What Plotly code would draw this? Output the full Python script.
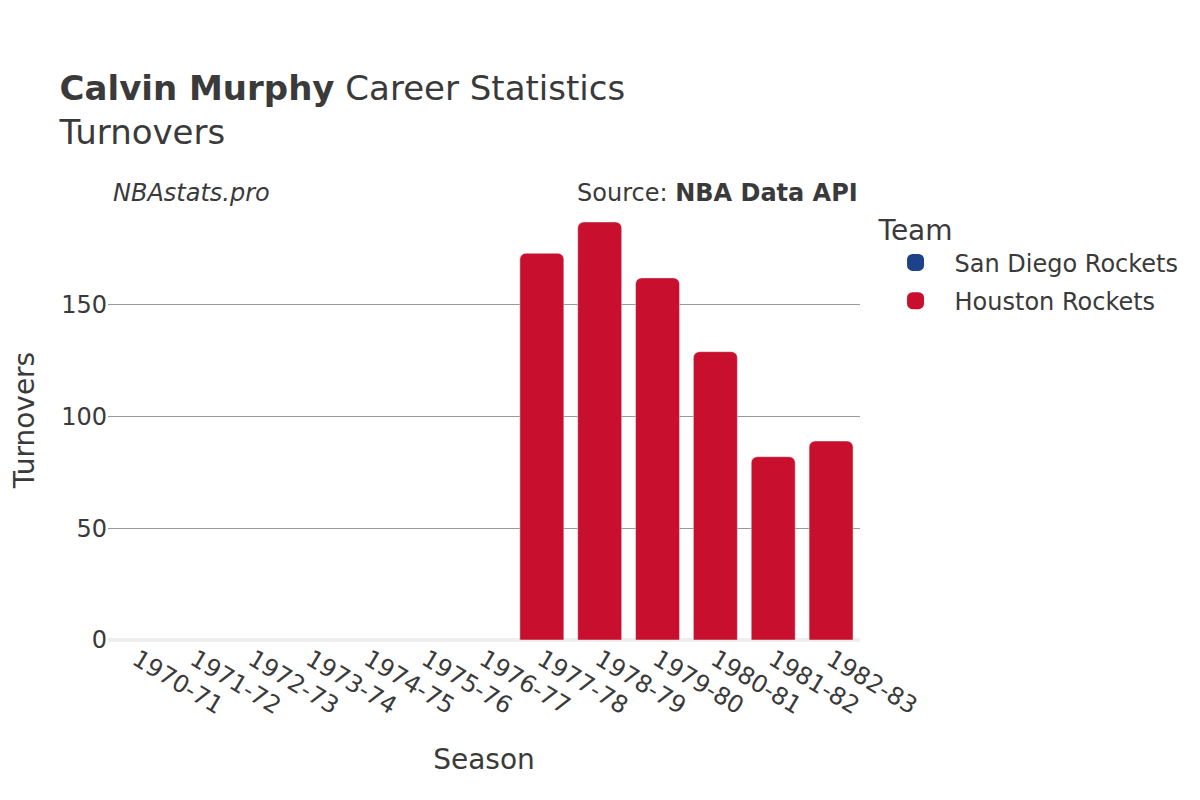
import plotly.graph_objects as go

# Season labels and turnovers per team
seasons = ["1970-71", "1971-72", "1972-73", "1973-74", "1974-75", "1975-76", "1976-77",
           "1977-78", "1978-79", "1979-80", "1980-81", "1981-82", "1982-83"]
san_diego = [None, None, None, None, None, None, None, None, None, None, None, None, None]
houston = [None, None, None, None, None, None, None, 173, 187, 162, 129, 82, 89]

teams = ["San Diego Rockets", "Houston Rockets"]
team_colors = ["#1D428A", "#C8102E"]

font_family = "DejaVu Sans"
text_color = "#3a3a3a"

fig = go.Figure()
for name, values, color in zip(teams, [san_diego, houston], team_colors):
    fig.add_trace(go.Bar(x=seasons, y=values, name=name, marker_color=color,
                         showlegend=False, legendgroup=name))
    # legend entry only, with a bigger swatch
    fig.add_trace(go.Bar(x=[None], y=[None], name=name, legendgroup=name,
                         marker=dict(color=color, line=dict(color=color, width=11))))

fig.update_layout(
    width=1200,
    height=800,
    barmode="relative",
    bargap=0.24,
    barcornerradius=6,
    plot_bgcolor="white",
    paper_bgcolor="white",
    font=dict(family=font_family, color=text_color, size=24),
    title=dict(
        text="<b>Calvin Murphy</b> Career Statistics<br>Turnovers",
        x=0.043, xanchor="left", y=0.885, yanchor="top",
        font=dict(size=34, color=text_color),
    ),
    margin=dict(l=100, r=348, t=192, b=168),
    legend=dict(
        title=dict(text="Team", font=dict(size=28)),
        x=1.022, xanchor="left", y=0.991, yanchor="top",
        font=dict(size=24),
        itemwidth=68,
        tracegroupgap=4,
    ),
    xaxis=dict(
        title=dict(text="Season", font=dict(size=28), standoff=30),
        tickangle=31,
        categoryorder="array",
        categoryarray=seasons,
        automargin=False,
    ),
    yaxis=dict(
        title=dict(text="Turnovers", font=dict(size=28), standoff=40),
        gridcolor="#999999",
        zeroline=True,
        zerolinecolor="#eeeeee",
        zerolinewidth=4,
        tickvals=[0, 50, 100, 150],
        automargin=False,
    ),
    annotations=[
        dict(text="<i>NBAstats.pro</i>", xref="paper", yref="paper", x=0.004, y=1.017,
             xanchor="left", yanchor="middle", showarrow=False, font=dict(size=24)),
        dict(text="Source: <b>NBA Data API</b>", xref="paper", yref="paper", x=1.0, y=1.017,
             xanchor="right", yanchor="middle", showarrow=False, font=dict(size=24)),
    ],
)

fig.write_html("out.html")
